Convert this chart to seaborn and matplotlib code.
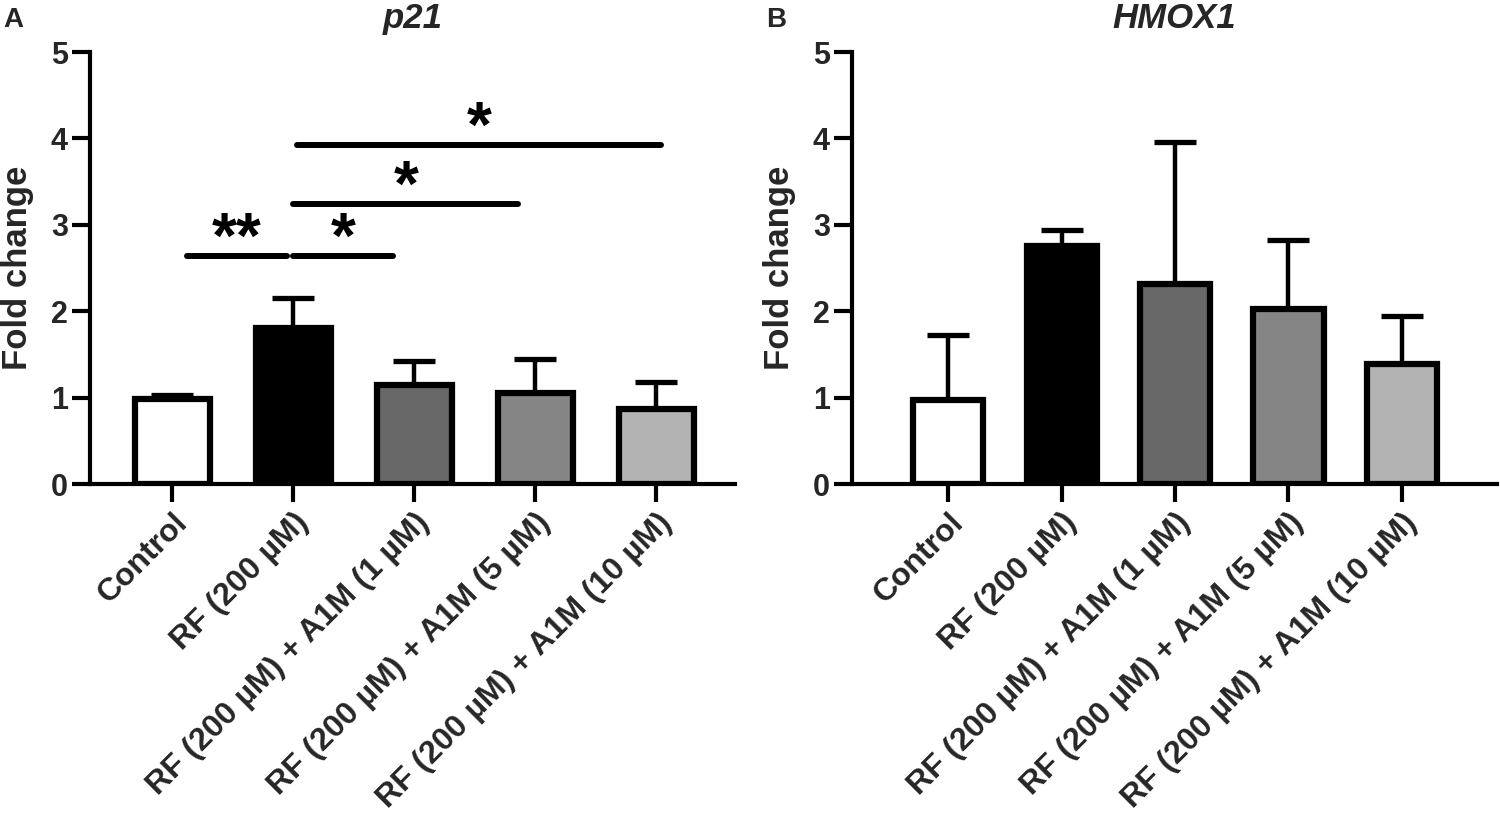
import numpy as np
import pandas as pd
import matplotlib
matplotlib.use("Agg")
import matplotlib.pyplot as plt
import seaborn as sns

# ---- data ----
categories = ["Control", "RF (200 µM)", "RF (200 µM) + A1M (1 µM)",
              "RF (200 µM) + A1M (5 µM)", "RF (200 µM) + A1M (10 µM)"]
bar_colors = ["#ffffff", "#000000", "#686868", "#858585", "#b3b3b3"]

p21_mean = [0.98, 1.81, 1.15, 1.05, 0.87]
p21_err = [0.05, 0.34, 0.27, 0.40, 0.31]

hmox1_mean = [0.97, 2.75, 2.31, 2.03, 1.39]
hmox1_err = [0.76, 0.19, 1.65, 0.79, 0.55]

# significance brackets for p21 (start position, end position, height, label)
sig_start = [0.12, 1.00, 1.00, 1.03]
sig_end = [0.95, 1.82, 2.86, 4.04]
sig_height = [2.64, 2.64, 3.24, 3.92]
sig_label = ["**", "*", "*", "*"]

y_ticks = [0, 1, 2, 3, 4, 5]

# ---- style ----
sns.set_theme(style="ticks")
plt.rcParams["font.family"] = ["Liberation Sans", "DejaVu Sans"]
plt.rcParams["font.weight"] = "bold"

fig = plt.figure(figsize=(15, 8.19), dpi=100)
axA = fig.add_axes([0.06, 0.409, 0.43, 0.5275])
axB = fig.add_axes([0.568, 0.409, 0.43, 0.5275])


def draw_panel(ax, means, errs, title, xlim):
    df = pd.DataFrame({"group": categories, "value": means})
    sns.barplot(data=df, x="group", y="value", hue="group", palette=bar_colors,
                order=categories, hue_order=categories, legend=False,
                edgecolor="black", linewidth=4.5, width=0.62,
                errorbar=None, ax=ax, saturation=1)
    x = np.arange(len(categories))
    ax.errorbar(x, means, yerr=[np.zeros(len(errs)), errs], fmt="none",
                ecolor="black", elinewidth=3.2, capsize=15, capthick=3.8,
                zorder=0.5)
    ax.set_ylim(0, 5)
    ax.set_xlim(*xlim)
    ax.set_yticks(y_ticks)
    ax.set_yticklabels([str(t) for t in y_ticks], fontsize=22, fontweight="bold")
    ax.set_xticks(x)
    ax.set_xticklabels(categories, rotation=45, ha="right",
                       rotation_mode="anchor", fontsize=23, fontweight="bold")
    ax.set_xlabel("")
    ax.set_ylabel("Fold change", fontsize=25, fontweight="bold", labelpad=12)
    ax.set_title(title, fontsize=25, fontweight="bold", fontstyle="italic", pad=17)
    for s in ["top", "right"]:
        ax.spines[s].set_visible(False)
    for s in ["left", "bottom"]:
        ax.spines[s].set_linewidth(3)
        ax.spines[s].set_color("black")
    ax.tick_params(axis="both", which="major", length=13, width=3,
                   color="black", direction="out")
    ax.tick_params(axis="y", pad=3)
    ax.tick_params(axis="x", pad=4)
    ax.set_facecolor("white")


draw_panel(axA, p21_mean, p21_err, "p21", (-0.68, 4.65))
draw_panel(axB, hmox1_mean, hmox1_err, "HMOX1", (-0.85, 4.84))

for x0, x1, h, lab in zip(sig_start, sig_end, sig_height, sig_label):
    axA.plot([x0, x1], [h, h], color="black", lw=4.3, solid_capstyle="round",
             clip_on=False)
    axA.text((x0 + x1) / 2, h - 0.17, lab, ha="center", va="bottom",
             fontsize=46, fontweight="bold", color="black")

fig.text(0.002, 0.992, "A", fontsize=20, fontweight="bold", va="top", ha="left")
fig.text(0.511, 0.992, "B", fontsize=20, fontweight="bold", va="top", ha="left")

fig.savefig("out.png", dpi=100, facecolor="white")
